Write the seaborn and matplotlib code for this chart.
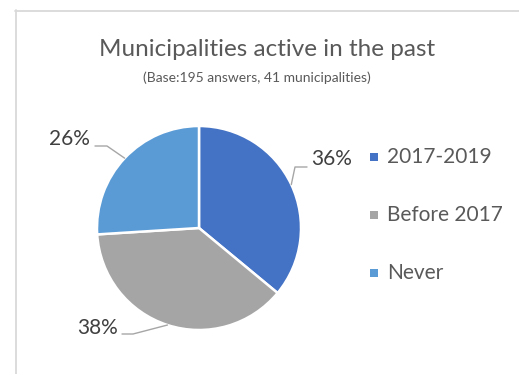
import numpy as np
import matplotlib
matplotlib.use("Agg")
import matplotlib.pyplot as plt
from matplotlib.lines import Line2D
import seaborn as sns

# Survey answers
categories = ["2017-2019", "Before 2017", "Never"]
shares = [36, 38, 26]
title = "Municipalities active in the past"
subtitle = "(Base:195 answers, 41 municipalities)"

sns.set_theme(style="white")
plt.rcParams["font.family"] = ["Lato", "DejaVu Sans"]
palette = sns.color_palette(["#4472C4", "#A5A5A5", "#5B9BD5"])

W, H = 519, 374
fig = plt.figure(figsize=(W / 100, H / 100), dpi=100)
ax = fig.add_axes([0, 0, 1, 1])


def py(y):
    # pixel row (from top) to data y
    return H - y


cx, cy, r = 199, 228, 102
wedges, _ = ax.pie(
    shares,
    colors=palette,
    startangle=90,
    counterclock=False,
    center=(cx, py(cy)),
    radius=r,
    wedgeprops=dict(edgecolor="white", linewidth=1.8),
)
ax.set_xlim(0, W)
ax.set_ylim(0, H)
ax.set_aspect("equal")
ax.axis("off")

# chart frame
frame = "#D9D9D9"
ax.add_line(Line2D([15.5, 15.5], [py(10), 0], color=frame, lw=1.3))
ax.add_line(Line2D([15, W], [py(10.5), py(10.5)], color=frame, lw=1.3))

# title
ax.text(267, py(49), title, ha="center", va="center", fontsize=17.5, color="#595959")
ax.text(257, py(78), subtitle, ha="center", va="center", fontsize=10, color="#595959")

# data labels with leader lines
label_xy = [(311, 159, "left"), (118, 328, "right"), (90, 139, "right")]
elbows = [((295, 167), (307, 167)), ((133, 334), (122, 334)), ((107, 146), (95, 146))]
for w, val, (lx, ly, ha), (e1, e2) in zip(wedges, shares, label_xy, elbows):
    mid = np.deg2rad((w.theta1 + w.theta2) / 2)
    sx, sy = cx + r * np.cos(mid), py(cy) + r * np.sin(mid)
    ax.add_line(Line2D([sx, e1[0], e2[0]], [sy, py(e1[1]), py(e2[1])],
                       color="#A6A6A6", lw=1.0))
    ax.text(lx, py(ly), f"{val}%", ha=ha, va="center", fontsize=15, color="#404040")

# legend
leg_y = [157, 215, 273]
for cat, col, yy in zip(categories, palette, leg_y):
    ax.scatter([374], [py(yy)], marker="s", s=40, color=col, linewidths=0)
    ax.text(387, py(yy), cat, ha="left", va="center", fontsize=15, color="#595959")

fig.savefig("out.png", dpi=100, facecolor="white")
